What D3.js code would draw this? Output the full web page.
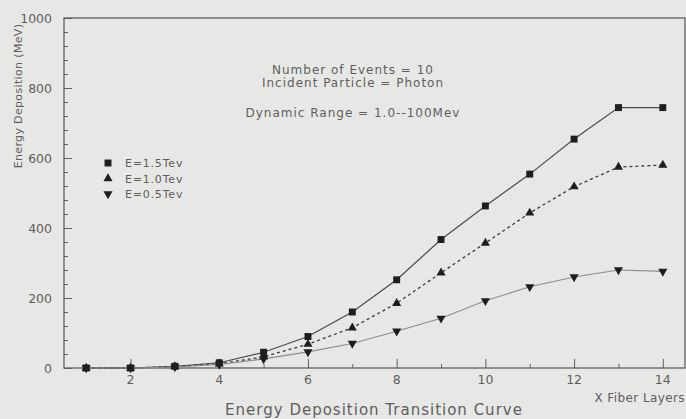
<!DOCTYPE html>
<html>
<head>
<meta charset="utf-8">
<script src="https://cdn.jsdelivr.net/npm/d3@7"></script>
<style>
  html, body { margin: 0; padding: 0; background: #e7e7e5; }
  svg { display: block; }
  text { font-family: "DejaVu Sans", sans-serif; fill: #5e5e5e; }
</style>
</head>
<body>
<svg id="chart" width="686" height="419"></svg>
<script>
// Fiber layer index
const layers = [1, 2, 3, 4, 5, 6, 7, 8, 9, 10, 11, 12, 13, 14];
// Energy deposition (MeV) per layer for each incident energy
const e15 = [0, 0, 5, 15, 45, 90, 160, 252, 367, 463, 554, 654, 744, 744];
const e10 = [0, 0, 4, 12, 32, 68, 115, 185, 272, 357, 443, 518, 574, 580];
const e05 = [0, 0, 3, 10, 26, 46, 70, 105, 142, 192, 232, 260, 280, 276];
const seriesNames = ["E=1.5Tev", "E=1.0Tev", "E=0.5Tev"];
const xTickValues = [2, 4, 6, 8, 10, 12, 14];
const yTickValues = [0, 200, 400, 600, 800, 1000];
const notes = ["Number of Events = 10", "Incident Particle = Photon", "Dynamic Range = 1.0--100Mev"];

const svg = d3.select("#chart");
const plotL = 64, plotR = 685, plotT = 18, plotB = 368;

const x = d3.scaleLinear().domain([0.5, 14.5]).range([plotL, plotR]);
const y = d3.scaleLinear().domain([0, 1000]).range([plotB, plotT]);

const axisColor = "#606060";

// Frame
svg.append("rect")
  .attr("x", plotL).attr("y", plotT)
  .attr("width", plotR - plotL).attr("height", plotB - plotT)
  .attr("fill", "none").attr("stroke", axisColor).attr("stroke-width", 1.3);

// Y axis: majors every 200, minors every 40, drawn inward
const yAxis = svg.append("g").attr("transform", `translate(${plotL},0)`);
yAxis.call(d3.axisRight(y).tickValues(d3.range(0, 1001, 40)).tickSize(4).tickFormat(""))
  .call(g => g.select(".domain").remove())
  .call(g => g.selectAll("line").attr("stroke", axisColor));
yAxis.append("g")
  .call(d3.axisRight(y).tickValues(yTickValues).tickSize(8).tickFormat(""))
  .call(g => g.select(".domain").remove())
  .call(g => g.selectAll("line").attr("stroke", axisColor));
svg.append("g").selectAll("text").data(yTickValues).join("text")
  .attr("x", plotL - 12).attr("y", d => y(d) + 4.5)
  .attr("text-anchor", "end")
  .attr("font-size", 12.5)
  .text(d => d);

// X axis: majors at even layers, minors at odd layers, drawn inward
const xAxis = svg.append("g").attr("transform", `translate(0,${plotB})`);
xAxis.call(d3.axisTop(x).tickValues(d3.range(1, 15, 2)).tickSize(4).tickFormat(""))
  .call(g => g.select(".domain").remove())
  .call(g => g.selectAll("line").attr("stroke", axisColor));
xAxis.append("g")
  .call(d3.axisTop(x).tickValues(xTickValues).tickSize(9).tickFormat(""))
  .call(g => g.select(".domain").remove())
  .call(g => g.selectAll("line").attr("stroke", axisColor));
svg.append("g").selectAll("text").data(xTickValues).join("text")
  .attr("x", d => x(d)).attr("y", plotB + 15.5)
  .attr("text-anchor", "middle")
  .attr("font-size", 12.5)
  .text(d => d);

// Curves
const line = d3.line().x((d, i) => x(layers[i])).y(d => y(d));
const styles = [
  { data: e15, stroke: "#4a4a4a", width: 1.2, dash: null, symbol: d3.symbolSquare, size: 48, rot: 0 },
  { data: e10, stroke: "#3a3a3a", width: 1.3, dash: "3,3", symbol: d3.symbolTriangle, size: 36, rot: 0 },
  { data: e05, stroke: "#8c8c8c", width: 1.1, dash: null, symbol: d3.symbolTriangle, size: 36, rot: 180 }
];

styles.forEach(s => {
  svg.append("path")
    .attr("d", line(s.data))
    .attr("fill", "none")
    .attr("stroke", s.stroke)
    .attr("stroke-width", s.width)
    .attr("stroke-dasharray", s.dash);
});
styles.forEach(s => {
  svg.append("g").selectAll("path").data(s.data).join("path")
    .attr("d", d3.symbol().type(s.symbol).size(s.size))
    .attr("transform", (d, i) => `translate(${x(layers[i])},${y(d)}) rotate(${s.rot})`)
    .attr("fill", "#1e1e1e");
});

// Legend
const legend = svg.append("g").attr("transform", "translate(108,163)");
styles.forEach((s, i) => {
  legend.append("path")
    .attr("d", d3.symbol().type(s.symbol).size(s.size))
    .attr("transform", `translate(0,${i * 15.5}) rotate(${s.rot})`)
    .attr("fill", "#1e1e1e");
  legend.append("text")
    .attr("x", 17).attr("y", i * 15.5 + 4)
    .attr("font-size", 11)
    .attr("letter-spacing", 0.8)
    .text(seriesNames[i]);
});

// Run notes
const noteY = [74, 87, 117];
svg.append("g").selectAll("text").data(notes).join("text")
  .attr("x", 353)
  .attr("y", (d, i) => noteY[i])
  .attr("text-anchor", "middle")
  .attr("font-size", 12)
  .attr("letter-spacing", 1)
  .text(d => d);

// Axis titles
svg.append("text")
  .attr("transform", "translate(22,96) rotate(-90)")
  .attr("text-anchor", "middle")
  .attr("font-size", 11)
  .attr("letter-spacing", 0.35)
  .text("Energy Deposition (MeV)");

svg.append("text")
  .attr("x", 685).attr("y", 402)
  .attr("text-anchor", "end")
  .attr("font-size", 12)
  .attr("letter-spacing", 0.4)
  .text("X Fiber Layers");

svg.append("text")
  .attr("x", 374).attr("y", 415)
  .attr("text-anchor", "middle")
  .attr("font-size", 15)
  .attr("letter-spacing", 1)
  .text("Energy Deposition Transition Curve");
</script>
</body>
</html>
